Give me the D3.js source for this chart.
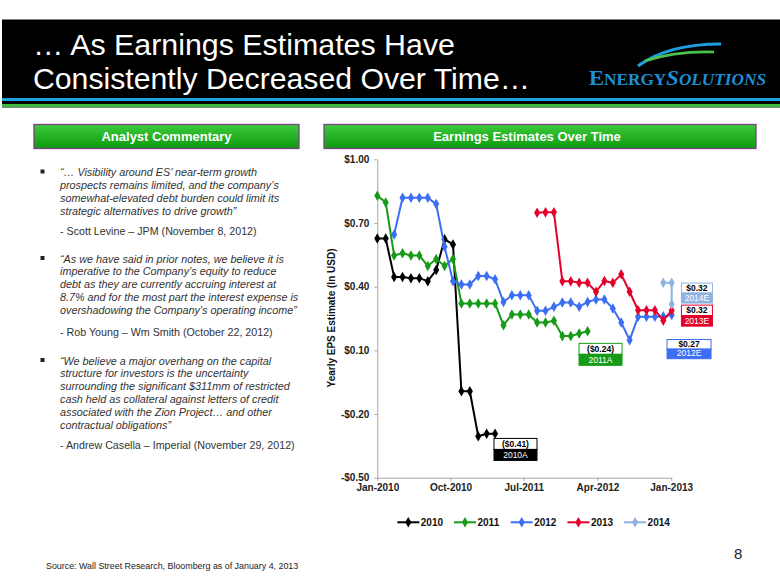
<!DOCTYPE html>
<html><head><meta charset="utf-8">
<script src="https://cdn.jsdelivr.net/npm/d3@7"></script>
<style>
body{margin:0;background:#fff;}
svg{display:block;font-family:"Liberation Sans",Arial,sans-serif;}
</style>
</head><body><svg id="c" width="780" height="585"></svg>
<script>
// ---------------- DATA ----------------
const seriesNames = ["2010", "2011", "2012", "2013", "2014"];
const seriesColors = ["#000000", "#169b16", "#3b6ef2", "#e4002b", "#8fb2e0"];
// consensus EPS estimates, one value per monthly observation slot
const eps2010 = [0.627, 0.627, 0.446, 0.446, 0.440, 0.440, 0.426, 0.478, 0.623, 0.599, -0.093, -0.093, -0.305, -0.293, -0.293];
const eps2011 = [0.828, 0.797, 0.547, 0.557, 0.547, 0.547, 0.497, 0.530, 0.497, 0.530, 0.321, 0.321, 0.321, 0.321, 0.321, 0.218, 0.269, 0.269, 0.269, 0.231, 0.231, 0.239, 0.167, 0.167, 0.179, 0.190];
const eps2012 = [0.646, 0.819, 0.819, 0.819, 0.819, 0.789, 0.588, 0.426, 0.410, 0.410, 0.450, 0.450, 0.435, 0.328, 0.360, 0.360, 0.360, 0.286, 0.286, 0.305, 0.325, 0.325, 0.305, 0.328, 0.340, 0.340, 0.297, 0.231, 0.148, 0.258, 0.258, 0.258, 0.260, 0.267];
const eps2013 = [0.748, 0.750, 0.750, 0.426, 0.426, 0.418, 0.418, 0.376, 0.427, 0.418, 0.458, 0.376, 0.289, 0.289, 0.289, 0.240, 0.288];
const eps2014 = [0.418, 0.418, 0.317];
// observation slot (0 = Jan-2010 ... 35 = Jan-2013) of each series' points
const slots2010 = d3.range(0, 15);
const slots2011 = d3.range(0, 26);
const slots2012 = d3.range(2, 36);
const slots2013 = d3.range(19, 36);
const slots2014 = [34, 35, 35];
const slotCount = 36;

const yTicks = [-0.5, -0.2, 0.1, 0.4, 0.7, 1.0];
const xTickLabels = ["Jan-2010", "Oct-2010", "Jul-2011", "Apr-2012", "Jan-2013"];

const callValues = ["($0.41)", "($0.24)", "$0.27", "$0.32", "$0.32"];
const callLabels = ["2010A", "2011A", "2012E", "2013E", "2014E"];

const quotes = [
  {lines: ["\u201c\u2026 Visibility around ES\u2019 near-term growth",
           "prospects remains limited, and the company\u2019s",
           "somewhat-elevated debt burden could limit its",
           "strategic alternatives to drive growth\u201d"],
   by: "- Scott Levine \u2013 JPM (November 8, 2012)"},
  {lines: ["\u201cAs we have said in prior notes, we believe it is",
           "imperative to the Company\u2019s equity to reduce",
           "debt as they are currently accruing interest at",
           "8.7% and for the most part the interest expense is",
           "overshadowing the Company\u2019s operating income\u201d"],
   by: "- Rob Young \u2013 Wm Smith (October 22, 2012)"},
  {lines: ["\u201cWe believe a major overhang on the capital",
           "structure for investors is the uncertainty",
           "surrounding the significant $311mm of restricted",
           "cash held as collateral against letters of credit",
           "associated with the Zion Project\u2026 and other",
           "contractual obligations\u201d"],
   by: "- Andrew Casella \u2013 Imperial (November 29, 2012)"}
];

// ---------------- DRAW ----------------
const svg = d3.select("#c");
const defs = svg.append("defs");
const g1 = defs.append("linearGradient").attr("id","gbar").attr("x1",0).attr("y1",0).attr("x2",0).attr("y2",1);
g1.append("stop").attr("offset","0%").attr("stop-color","#3ccb3c");
g1.append("stop").attr("offset","100%").attr("stop-color","#0f9a0f");

// header band
svg.append("rect").attr("x",2).attr("y",19.5).attr("width",778).attr("height",88).attr("fill","#000");
svg.append("rect").attr("x",2).attr("y",98).attr("width",778).attr("height",3).attr("fill","#1fa2e4");
svg.append("rect").attr("x",2).attr("y",104).attr("width",778).attr("height",3).attr("fill","#3dbb3d");
const title = svg.append("g").attr("fill","#fff").style("font-size","30px");
title.append("text").attr("x",33).attr("y",55).attr("textLength",422).attr("lengthAdjust","spacingAndGlyphs").text("\u2026 As Earnings Estimates Have");
title.append("text").attr("x",33).attr("y",89).attr("textLength",497).attr("lengthAdjust","spacingAndGlyphs").text("Consistently Decreased Over Time\u2026");

// logo
svg.append("path").attr("d","M638,66 Q668,44 721,44").attr("fill","none").attr("stroke","#1e9ee0").attr("stroke-width",3.2);
svg.append("path").attr("d","M645,61 Q675,51 714,52").attr("fill","none").attr("stroke","#4cc24c").attr("stroke-width",2.6);
const logo = svg.append("text").attr("x",589).attr("y",85).attr("fill","#1f8fd4")
  .style("font-family","'Liberation Serif','Times New Roman',serif").style("font-weight","bold")
  .attr("textLength",177).attr("lengthAdjust","spacingAndGlyphs");
logo.append("tspan").style("font-size","21px").text("E");
logo.append("tspan").style("font-size","16px").text("NERGY");
logo.append("tspan").style("font-size","21px").style("font-style","italic").text("S");
logo.append("tspan").style("font-size","16px").style("font-style","italic").text("OLUTIONS");

// section bars
function bar(x, w, label, tx) {
  svg.append("rect").attr("x",x).attr("y",124.5).attr("width",w).attr("height",24)
    .attr("fill","url(#gbar)").attr("stroke","#7b3f86").attr("stroke-width",1.3);
  svg.append("text").attr("x",tx).attr("y",141.2).attr("text-anchor","middle")
    .attr("fill","#fff").style("font-size","13px").style("font-weight","bold").text(label);
}
bar(34, 265, "Analyst Commentary", 166.5);
bar(324, 432, "Earnings Estimates Over Time", 527);

// quotes
const qStarts = [176, 262.5, 364.5];
const qBy = [234.5, 336, 449];
const qt = svg.append("g").attr("fill","#333");
quotes.forEach((q, i) => {
  qt.append("rect").attr("x",40.5).attr("y",qStarts[i]-6.5).attr("width",4).attr("height",4).attr("fill","#222");
  q.lines.forEach((l, j) => {
    qt.append("text").attr("x",60).attr("y",qStarts[i] + j*12.95)
      .style("font-size","10.8px").style("font-style","italic").text(l);
  });
  qt.append("text").attr("x",60).attr("y",qBy[i]).style("font-size","10.7px").text(q.by);
});

// footer
svg.append("text").attr("x",46).attr("y",569).attr("fill","#222").style("font-size","8.9px")
  .text("Source:  Wall Street Research, Bloomberg as of January 4, 2013");
svg.append("text").attr("x",734).attr("y",559).attr("fill","#222").style("font-size","15px").text("8");

// ---------------- CHART ----------------
const xL = 377.3, xR = 671.7, yT = 159.3, yB = 477.7;
const xSlot = d3.scaleLinear().domain([0, slotCount - 1]).range([xL, xR]);
const xTime = d3.scaleTime().domain([new Date(2010,0,1), new Date(2013,0,1)]).range([xL, 671.2]);
const y = d3.scaleLinear().domain([-0.5, 1.0]).range([yB, yT]);

const fmt = v => (v < 0 ? "-$" : "$") + Math.abs(v).toFixed(2);
const yAx = svg.append("g").attr("transform",`translate(${xL},0)`)
  .call(d3.axisLeft(y).tickValues(yTicks).tickFormat(fmt).tickSize(3).tickSizeOuter(0).tickPadding(5));
const parse = d3.timeParse("%b-%Y");
const xAx = svg.append("g").attr("transform",`translate(0,${yB})`)
  .call(d3.axisBottom(xTime).tickValues(xTickLabels.map(parse)).tickFormat(d3.timeFormat("%b-%Y")).tickSize(3).tickSizeOuter(0).tickPadding(3));
[yAx, xAx].forEach(a => {
  a.selectAll("path,line").attr("stroke","#a6a6a6");
  a.selectAll("text").attr("fill","#222").style("font-size","10px").style("font-weight","bold")
    .style("font-family","'Liberation Sans',Arial,sans-serif");
});
svg.append("text").attr("transform","translate(335,318) rotate(-90)").attr("text-anchor","middle")
  .attr("fill","#111").style("font-size","10px").style("font-weight","bold").text("Yearly EPS Estimate (In USD)");

const allVals = [eps2010, eps2011, eps2012, eps2013, eps2014];
const allSlots = [slots2010, slots2011, slots2012, slots2013, slots2014];
const diamond = d3.symbol().type(d3.symbolDiamond).size(32);
const line = d3.line().x(d => xSlot(d.s)).y(d => y(d.v));
const plot = svg.append("g");
seriesNames.forEach((name, k) => {
  const pts = allVals[k].map((v, i) => ({s: allSlots[k][i], v}));
  plot.append("path").datum(pts).attr("d", line).attr("fill","none")
    .attr("stroke", seriesColors[k]).attr("stroke-width", 2).attr("stroke-linejoin","round");
  plot.selectAll(null).data(pts).enter().append("path").attr("d", diamond)
    .attr("transform", d => `translate(${xSlot(d.s)},${y(d.v)})`).attr("fill", seriesColors[k]);
});

// callout boxes (anchored in slot / value units)
const callLayout = [
  {s: 16.43, top: -0.315, w: 43, h: 11, k: 0},
  {s: 26.54, top: 0.133,  w: 43, h: 11, k: 1},
  {s: 37.06, top: 0.151,  w: 44, h: 9.6, k: 2},
  {s: 38.0,  top: 0.313,  w: 31, h: 10.5, k: 3},
  {s: 38.0,  top: 0.417,  w: 31, h: 10, k: 4}
];
callLayout.forEach((c, i) => {
  const cx = xSlot(c.s), ty = y(c.top), col = seriesColors[c.k];
  const gg = svg.append("g");
  gg.append("rect").attr("x",cx - c.w/2).attr("y",ty).attr("width",c.w).attr("height",c.h)
    .attr("fill","#fff").attr("stroke",col).attr("stroke-width",1);
  gg.append("rect").attr("x",cx - c.w/2).attr("y",ty + c.h).attr("width",c.w).attr("height",c.h)
    .attr("fill",col).attr("stroke",col).attr("stroke-width",1);
  gg.append("text").attr("x",cx).attr("y",ty + c.h - 2.3).attr("text-anchor","middle")
    .attr("fill","#000").style("font-size","8.5px").style("font-weight","bold").text(callValues[i]);
  gg.append("text").attr("x",cx).attr("y",ty + 2*c.h - 2.3).attr("text-anchor","middle")
    .attr("fill","#fff").style("font-size","8.5px").text(callLabels[i]);
});

// legend
const lg = svg.append("g");
seriesNames.forEach((name, k) => {
  const lx = 397.3 + k*56.7, ly = 522.3;
  lg.append("line").attr("x1",lx).attr("x2",lx+22).attr("y1",ly).attr("y2",ly)
    .attr("stroke",seriesColors[k]).attr("stroke-width",2);
  lg.append("path").attr("d",diamond).attr("transform",`translate(${lx+11},${ly})`).attr("fill",seriesColors[k]);
  lg.append("text").attr("x",lx+23.5).attr("y",ly+3.6).attr("fill","#111")
    .style("font-size","10px").style("font-weight","bold").text(name);
});
</script></body></html>
